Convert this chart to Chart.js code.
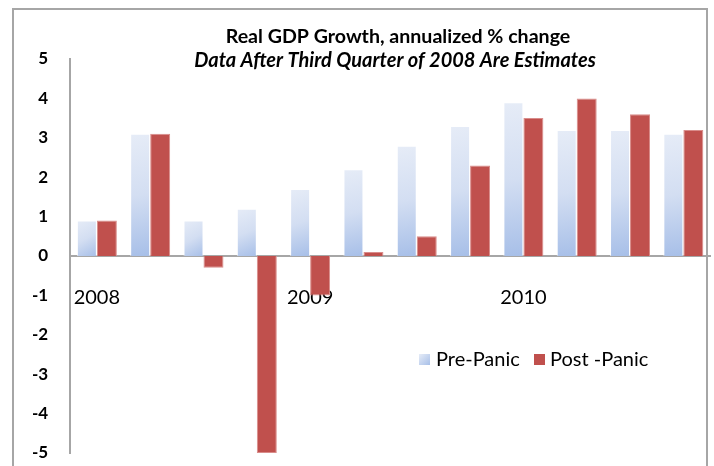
<!DOCTYPE html>
<html>
<head>
<meta charset="utf-8">
<title>Real GDP Growth</title>
<script src="https://cdn.jsdelivr.net/npm/chart.js@4.4.1/dist/chart.umd.min.js"></script>
<style>
  html, body { margin: 0; padding: 0; background: #fff; }
  #wrap { position: relative; width: 714px; height: 466px; overflow: hidden; }
  #frame {
    position: absolute; left: 12px; top: 8px; width: 692px; height: 480px;
    border: 2px solid #a6a6a6; pointer-events: none;
  }
  canvas { position: absolute; left: 0; top: 0; }
</style>
</head>
<body>
<div id="wrap">
  <canvas id="chart" width="714" height="466"></canvas>
  <div id="frame"></div>
</div>
<script>
// quarters 2008 Q1 .. 2010 Q4
const quarters = ['2008 Q1', '2008 Q2', '2008 Q3', '2008 Q4',
                  '2009 Q1', '2009 Q2', '2009 Q3', '2009 Q4',
                  '2010 Q1', '2010 Q2', '2010 Q3', '2010 Q4'];
const prePanic  = [0.9, 3.1, 0.9, 1.2, 1.7, 2.2, 2.8, 3.3, 3.9, 3.2, 3.2, 3.1];
const postPanic = [0.9, 3.1, -0.3, -5.0, -1.0, 0.1, 0.5, 2.3, 3.5, 4.0, 3.6, 3.2];
const yTicks = [5, 4, 3, 2, 1, 0, -1, -2, -3, -4, -5];
const titleText = 'Real GDP Growth, annualized % change';
const subtitleText = 'Data After Third Quarter of 2008 Are Estimates';

const FONT = 'Lato, "DejaVu Sans", sans-serif';

// light blue fill, brighter at the top-left of each bar
function blueFill(c) {
  const chart = c.chart;
  const area = chart.chartArea;
  if (!area || !chart.scales.y) return '#c9d7ef';
  const y = chart.scales.y, x = chart.scales.x;
  const v = c.raw;
  const top = y.getPixelForValue(Math.max(v, 0));
  const bottom = y.getPixelForValue(Math.min(v, 0));
  const cx = x.getPixelForValue(c.dataIndex);
  const g = chart.ctx.createLinearGradient(cx - 20, top, cx, bottom);
  g.addColorStop(0, '#e6ecf7');
  g.addColorStop(0.5, '#d3def2');
  g.addColorStop(1, '#a7bfe8');
  return g;
}

// title lines and legend drawn inside the plot, like the original
const overlay = {
  id: 'overlay',
  afterDraw(chart) {
    const ctx = chart.ctx;
    ctx.save();
    ctx.fillStyle = '#000';
    ctx.textAlign = 'center';
    ctx.textBaseline = 'middle';
    ctx.font = 'bold 19.6px ' + FONT;
    ctx.fillText(titleText, 398, 37);
    ctx.font = 'italic bold 20px ' + FONT;
    ctx.fillText(subtitleText, 395, 61);

    // legend
    ctx.textAlign = 'left';
    ctx.font = '20px ' + FONT;
    const ds = chart.data.datasets;
    const items = [{x: 419, tx: 436}, {x: 534, tx: 550}];
    ds.forEach((d, i) => {
      const it = items[i];
      if (i === 0) {
        const g = ctx.createLinearGradient(it.x, 354, it.x + 11, 365);
        g.addColorStop(0, '#e6ecf7');
        g.addColorStop(1, '#a7bfe8');
        ctx.fillStyle = g;
      } else {
        ctx.fillStyle = d.backgroundColor;
      }
      ctx.fillRect(it.x, 354, 11, 11);
      ctx.fillStyle = '#000';
      ctx.fillText(d.label, it.tx, 360);
    });
    ctx.restore();
  }
};

new Chart(document.getElementById('chart'), {
  type: 'bar',
  data: {
    labels: quarters,
    datasets: [
      {
        label: 'Pre-Panic',
        data: prePanic,
        backgroundColor: blueFill,
        borderColor: 'rgba(255,255,255,0.7)',
        borderWidth: 1,
        categoryPercentage: 0.75,
        barPercentage: 1.0
      },
      {
        label: 'Post -Panic',
        data: postPanic,
        backgroundColor: '#c0504d',
        borderColor: '#d98c8a',
        borderWidth: 1,
        categoryPercentage: 0.75,
        barPercentage: 1.0
      }
    ]
  },
  options: {
    responsive: false,
    animation: false,
    layout: { padding: { left: 10, right: 4, top: 59, bottom: 13 } },
    plugins: {
      legend: { display: false },
      title: { display: false },
      tooltip: { enabled: false }
    },
    scales: {
      x: {
        position: { y: 0 },
        z: 1, // year labels sit on top of the bars
        grid: { display: false, drawTicks: false },
        border: { display: true, color: '#a6a6a6', width: 2 },
        ticks: {
          autoSkip: false,
          maxRotation: 0,
          padding: 30,
          color: '#000',
          font: { family: FONT, size: 20 },
          callback: (val, i) => (i % 4 === 0 ? quarters[i].slice(0, 4) : '')
        }
      },
      y: {
        min: -5,
        max: 5,
        afterBuildTicks: (s) => { s.ticks = yTicks.map(v => ({ value: v })); },
        // tick padding would otherwise also be added above/below the axis
        afterFit: (s) => { s.paddingTop = 0; s.paddingBottom = 0; },
        grid: { display: false, drawTicks: false },
        border: { display: true, color: '#a6a6a6', width: 2 },
        ticks: {
          padding: 22,
          color: '#000',
          font: { family: FONT, size: 17, weight: 'bold' }
        }
      }
    }
  },
  plugins: [overlay]
});
</script>
</body>
</html>
